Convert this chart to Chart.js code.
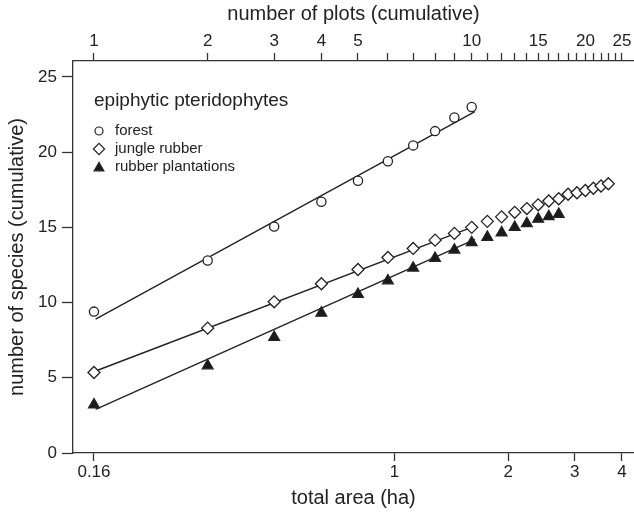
<!DOCTYPE html>
<html>
<head>
<meta charset="utf-8">
<script src="https://cdn.jsdelivr.net/npm/chart.js@4.4.1/dist/chart.umd.min.js"></script>
<style>
  html, body { margin: 0; padding: 0; background: #fff; }
  #wrap { width: 634px; height: 514px; }
</style>
</head>
<body>
<div id="wrap"><canvas id="chart" width="634" height="514"></canvas></div>
<script>
// hectares covered by one plot
const AREA_PER_PLOT = 0.16;

const forestPlots = [1, 2, 3, 4, 5, 6, 7, 8, 9, 10];
const forestSpecies = [9.4, 12.8, 15.05, 16.7, 18.1, 19.4, 20.45, 21.4, 22.3, 23.0];

const junglePlots = [1, 2, 3, 4, 5, 6, 7, 8, 9, 10, 11, 12, 13, 14, 15, 16, 17, 18, 19, 20, 21, 22, 23];
const jungleSpecies = [5.35, 8.3, 10.05, 11.25, 12.2, 13.0, 13.6, 14.15, 14.6, 15.0, 15.4, 15.7, 16.0, 16.25, 16.5, 16.75, 16.9, 17.2, 17.3, 17.45, 17.6, 17.75, 17.9];

const rubberPlots = [1, 2, 3, 4, 5, 6, 7, 8, 9, 10, 11, 12, 13, 14, 15, 16, 17];
const rubberSpecies = [3.2, 5.8, 7.7, 9.3, 10.55, 11.45, 12.3, 12.95, 13.5, 14.0, 14.35, 14.65, 15.0, 15.25, 15.55, 15.72, 15.88];

// fitted lines, start and end
const fitPlots = [1.01, 10.2];
const forestFit = [8.9, 22.7];
const jungleFit = [5.45, 15.08];
const rubberFit = [2.9, 14.2];

const plotTicks = [1, 2, 3, 4, 5, 6, 7, 8, 9, 10, 11, 12, 13, 14, 15, 16, 17, 18, 19, 20, 21, 22, 23, 24, 25];
const plotTickLabels = [1, 2, 3, 4, 5, 10, 15, 20, 25];
const areaTicks = [0.16, 1, 2, 3, 4];
const areaTickLabels = ["0.16", "1", "2", "3", "4"];
const speciesTicks = [0, 5, 10, 15, 20, 25];

const seriesNames = ["forest", "jungle rubber", "rubber plantations"];
const legendTitle = "epiphytic pteridophytes";

const PLOT_MIN = 0.88;
const PLOT_MAX = 26.9;
const INK = "#222";
const AXIS = "#333";
const FONT = "'Liberation Sans', Arial, Helvetica, sans-serif";

function points(xs, ys) {
  return xs.map((x, i) => ({ x, y: ys[i] }));
}

const markerStyles = [
  { pointStyle: "circle", radius: 4.6, bg: "#fff" },
  { pointStyle: "rectRot", radius: 6, bg: "#fff" },
  { pointStyle: "triangle", radius: 6.2, bg: "#1a1a1a" },
];

function fitLine(ys) {
  return {
    type: "line",
    data: points(fitPlots, ys),
    borderColor: INK,
    borderWidth: 1.4,
    pointRadius: 0,
    fill: false,
    order: 2,
  };
}

function scatter(xs, ys, style) {
  return {
    type: "scatter",
    data: points(xs, ys),
    pointStyle: style.pointStyle,
    pointRadius: style.radius,
    pointBackgroundColor: style.bg,
    pointBorderColor: INK,
    pointBorderWidth: 1.3,
    order: 1,
  };
}

const legendPlugin = {
  id: "insideLegend",
  afterDraw(chart) {
    const { ctx, chartArea } = chart;
    const x0 = chartArea.left + 21;
    ctx.save();
    ctx.fillStyle = INK;
    ctx.textBaseline = "middle";
    ctx.textAlign = "left";
    ctx.font = "19px " + FONT;
    ctx.fillText(legendTitle, x0, 101);
    ctx.font = "15px " + FONT;
    const legendRadius = [4, 5.6, 5.6];
    seriesNames.forEach((name, i) => {
      const y = 131 + i * 18;
      ctx.fillStyle = markerStyles[i].bg;
      ctx.strokeStyle = INK;
      ctx.lineWidth = 1.2;
      Chart.helpers.drawPoint(ctx, { pointStyle: markerStyles[i].pointStyle, radius: legendRadius[i], rotation: 0, borderWidth: 1.2 }, x0 + 5, y + (i === 2 ? 1 : 0));
      ctx.fillStyle = INK;
      ctx.fillText(name, x0 + 21, y);
    });
    ctx.restore();
  },
};

new Chart(document.getElementById("chart"), {
  data: {
    datasets: [
      fitLine(forestFit),
      fitLine(jungleFit),
      fitLine(rubberFit),
      scatter(forestPlots, forestSpecies, markerStyles[0]),
      scatter(junglePlots, jungleSpecies, markerStyles[1]),
      scatter(rubberPlots, rubberSpecies, markerStyles[2]),
    ],
  },
  options: {
    responsive: false,
    animation: false,
    layout: { padding: 0, autoPadding: false },
    plugins: { legend: { display: false }, tooltip: { enabled: false } },
    scales: {
      x: {
        type: "logarithmic",
        position: "top",
        min: PLOT_MIN,
        max: PLOT_MAX,
        border: { color: AXIS, width: 1.3 },
        grid: { drawOnChartArea: false, tickLength: 8, tickColor: AXIS, tickWidth: 1.3 },
        ticks: {
          autoSkip: false,
          maxRotation: 0,
          padding: 1,
          color: INK,
          font: { family: FONT, size: 17 },
          callback: (value) => (plotTickLabels.includes(value) ? String(value) : ""),
        },
        afterBuildTicks: (scale) => {
          scale.ticks = plotTicks.map((value) => ({ value }));
        },
        afterFit: (scale) => {
          scale.height = 61;
          scale.paddingLeft = 0;
          scale.paddingRight = 0;
        },
        title: {
          display: true,
          text: "number of plots (cumulative)",
          color: INK,
          font: { family: FONT, size: 20 },
          padding: { top: 2, bottom: 0 },
        },
      },
      area: {
        axis: "x",
        type: "logarithmic",
        position: "bottom",
        min: PLOT_MIN * AREA_PER_PLOT,
        max: PLOT_MAX * AREA_PER_PLOT,
        border: { color: AXIS, width: 1.3 },
        grid: { drawOnChartArea: false, tickLength: 8, tickColor: AXIS, tickWidth: 1.3 },
        ticks: {
          autoSkip: false,
          maxRotation: 0,
          padding: 1,
          color: INK,
          font: { family: FONT, size: 17 },
          callback: (value, index) => areaTickLabels[index],
        },
        afterBuildTicks: (scale) => {
          scale.ticks = areaTicks.map((value) => ({ value }));
        },
        afterFit: (scale) => {
          scale.height = 61;
          scale.paddingLeft = 0;
          scale.paddingRight = 0;
        },
        title: {
          display: true,
          text: "total area (ha)",
          color: INK,
          font: { family: FONT, size: 20 },
          padding: { top: 0, bottom: 4 },
        },
      },
      y: {
        type: "linear",
        min: 0,
        max: 26.06,
        border: { color: AXIS, width: 1.3 },
        grid: { drawOnChartArea: false, tickLength: 11, tickColor: AXIS, tickWidth: 1.3 },
        ticks: {
          padding: 5,
          color: INK,
          font: { family: FONT, size: 17 },
        },
        afterBuildTicks: (scale) => {
          scale.ticks = speciesTicks.map((value) => ({ value }));
        },
        afterFit: (scale) => {
          scale.width = 73;
          scale.paddingTop = 0;
          scale.paddingBottom = 0;
        },
        title: {
          display: true,
          text: "number of species (cumulative)",
          color: INK,
          font: { family: FONT, size: 20 },
          padding: { top: 5, bottom: 0 },
        },
      },
    },
  },
  plugins: [legendPlugin],
});
</script>
</body>
</html>
